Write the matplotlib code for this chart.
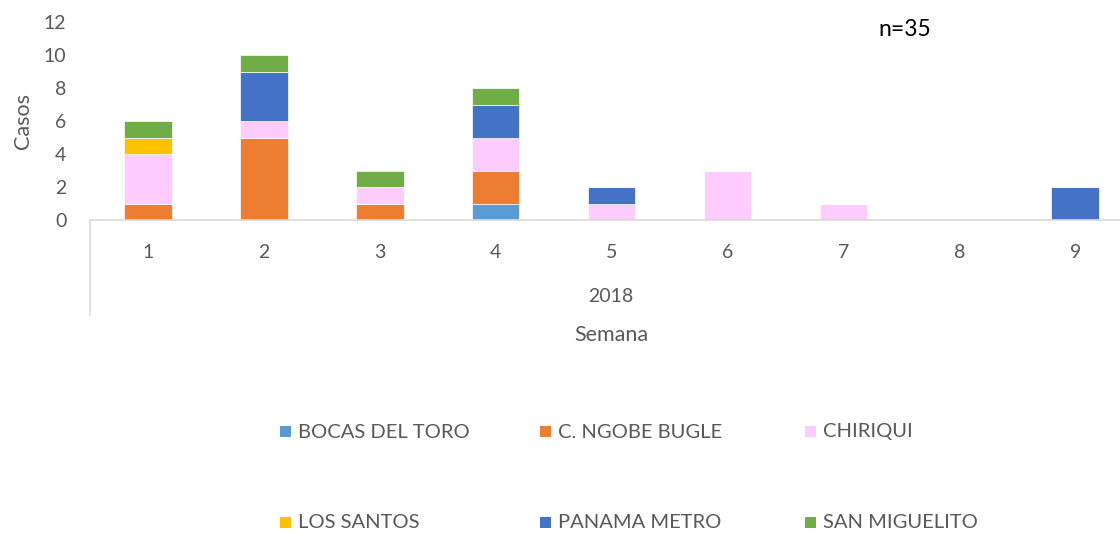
import numpy as np
import matplotlib
matplotlib.use("Agg")
import matplotlib.pyplot as plt
from matplotlib.patches import Rectangle

plt.rcParams['font.family'] = ['Lato', 'DejaVu Sans']

semanas = ["1", "2", "3", "4", "5", "6", "7", "8", "9"]
regiones = ["BOCAS DEL TORO", "C. NGOBE BUGLE", "CHIRIQUI",
            "LOS SANTOS", "PANAMA METRO", "SAN MIGUELITO"]
colores = ["#5B9BD5", "#ED7D31", "#FFCCFF", "#FFC000", "#4472C4", "#70AD47"]

bocas = [0, 0, 0, 1, 0, 0, 0, 0, 0]
ngobe = [1, 5, 1, 2, 0, 0, 0, 0, 0]
chiriqui = [3, 1, 1, 2, 1, 3, 1, 0, 0]
los_santos = [1, 0, 0, 0, 0, 0, 0, 0, 0]
panama = [0, 3, 0, 2, 1, 0, 0, 0, 2]
san_miguelito = [1, 1, 1, 1, 0, 0, 0, 0, 0]
series = [bocas, ngobe, chiriqui, los_santos, panama, san_miguelito]

gris = "#595959"
W, H = 1120, 533
fig = plt.figure(figsize=(11.2, 5.33), dpi=100)
# plot area in pixels: left 90, top 22, bottom 220, 115.9 px per week
ax = fig.add_axes([90 / W, 1 - 220 / H, 9 * 115.9 / W, 198 / H])

x = np.arange(len(semanas))
base = np.zeros(len(semanas))
for vals, col, nom in zip(series, colores, regiones):
    vals = np.array(vals, dtype=float)
    ax.bar(x, vals, width=0.41, bottom=base, color=col, edgecolor="white",
           linewidth=0.5, label=nom)
    base += vals

ax.set_xlim(-0.5, len(semanas) - 0.5)
ax.set_ylim(0, 12)
ax.set_yticks(range(0, 13, 2))
ax.tick_params(axis="y", length=0, labelsize=14, labelcolor=gris, pad=17)
ax.set_xticks([])
for s in ["top", "right", "left"]:
    ax.spines[s].set_visible(False)
ax.spines["bottom"].set_color("#D9D9D9")
ax.spines["bottom"].set_linewidth(1.2)
ax.set_ylabel("Casos", fontsize=15.5, color=gris, labelpad=8)

# category labels (week / year)
for xi, lab in zip(x, semanas):
    ax.annotate(lab, (xi, 0), xycoords="data", xytext=(0, -32 * 0.72),
                textcoords="offset points", ha="center", va="center",
                fontsize=14, color=gris, annotation_clip=False)
fig.text(611 / W, 1 - 297 / H, "2018", ha="center", va="center", fontsize=14, color=gris)
fig.text(611 / W, 1 - 335 / H, "Semana", ha="center", va="center", fontsize=15.5, color=gris)
fig.add_artist(plt.Line2D([90 / W, 90 / W], [1 - 220 / H, 1 - 315 / H],
                          color="#D9D9D9", linewidth=1.2))

fig.text(905 / W, 1 - 30 / H, "n=35", ha="center", va="center", fontsize=16.5, color="black")

# legend, two rows of three
leg_x = [280, 540, 805]
leg_y = [432, 523]
for i, (nom, col) in enumerate(zip(regiones, colores)):
    px = leg_x[i % 3]
    py = leg_y[i // 3]
    fig.add_artist(Rectangle((px / W, 1 - (py + 5) / H), 11 / W, 11 / H,
                             transform=fig.transFigure, facecolor=col, edgecolor="none"))
    fig.text((px + 18) / W, 1 - py / H, nom, ha="left", va="center", fontsize=14.5, color=gris)

fig.savefig("out.png", dpi=100)
